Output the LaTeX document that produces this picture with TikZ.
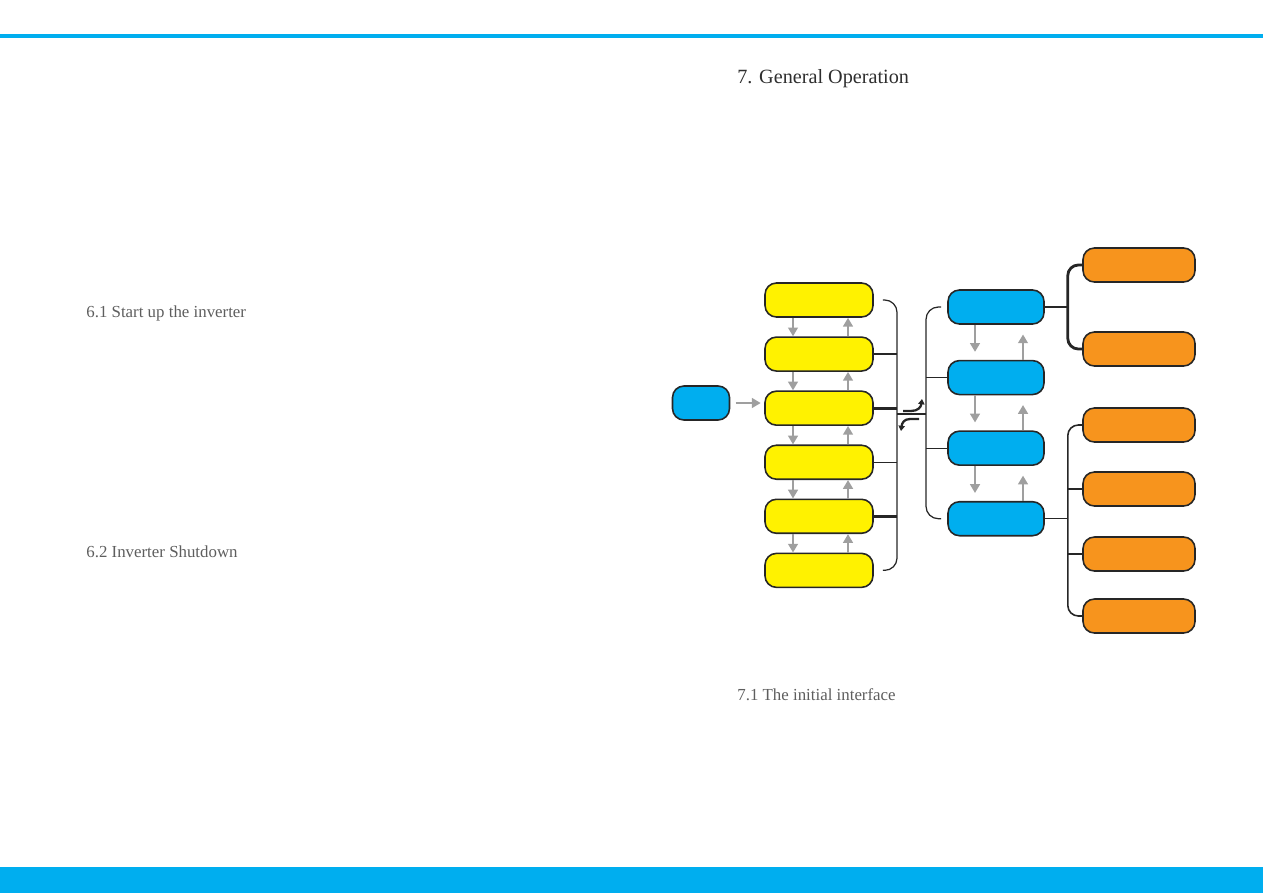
\documentclass[tikz,border=0pt]{standalone}
\usepackage{fontspec}
\setmainfont{Liberation Serif}
\usepackage{xcolor}
\usepackage{tikz}
\usetikzlibrary{arrows.meta,positioning,calc}
\definecolor{yfill}{HTML}{FFF200}
\definecolor{bfill}{HTML}{00AEEF}
\definecolor{ofill}{HTML}{F7941D}
\definecolor{barblue}{HTML}{00AEEF}
\definecolor{headgray}{HTML}{2E2E2E}
\definecolor{subgray}{HTML}{5E5E5E}

\begin{document}
\begin{tikzpicture}[
      x=0.02cm, y=-0.02cm,
      node distance = 0.37cm,
      box/.style = {rectangle, rounded corners=6.5pt, draw=black!85, line width=0.9pt, minimum height=0.68cm, inner sep=0pt},
      ybox/.style = {box, fill=yfill, minimum width=2.16cm},
      bbox/.style = {box, fill=bfill, minimum width=1.92cm},
      obox/.style = {box, fill=ofill, minimum width=2.24cm},
      garrow/.style = {-{Triangle[length=5pt,width=5.5pt]}, line width=1.5pt, gray!75},
      thinln/.style = {line width=0.7pt, black!85},
      thickln/.style = {line width=1.6pt, black!85},
      curv/.style = {-{Triangle[length=3pt,width=3.6pt]}, line width=1.3pt, black!85},
      head/.style = {anchor=base west, inner sep=0pt, text=headgray, font=\fontsize{11.5}{14}\selectfont},
      sub/.style = {anchor=base west, inner sep=0pt, text=subgray, font=\fontsize{9.6}{12}\selectfont}
    ]
    \useasboundingbox (0,0) rectangle (1263,893);
    \fill[barblue] (0,34) rectangle (1263,37.8);
    \fill[barblue] (0,866.5) rectangle (1263,893);

    \node[sub]  (t61) at (86,317) {6.1 Start up the inverter};
    \node[sub]  (t62) at (86,557) {6.2 Inverter Shutdown};
    \node[head] (t7)  at (737,83) {7. General Operation};
    \node[sub]  (t71) at (737,700) {7.1 The initial interface};

    \node[bbox, minimum width=1.14cm] (s) at (701,403) {};

    \node[ybox] (y1) at (819,300) {};
    \node[ybox, below=of y1] (y2) {};
    \node[ybox, below=of y2] (y3) {};
    \node[ybox, below=of y3] (y4) {};
    \node[ybox, below=of y4] (y5) {};
    \node[ybox, below=of y5] (y6) {};

    \node[bbox] (b1) at (996,307) {};
    \node[bbox, below=0.7cm of b1] (b2) {};
    \node[bbox, below=0.7cm of b2] (b3) {};
    \node[bbox, below=0.7cm of b3] (b4) {};

    \node[obox] (o1) at (1139,265) {};
    \node[obox] (o2) at (1139,349) {};
    \node[obox] (o3) at (1139,425) {};
    \node[obox] (o4) at (1139,489) {};
    \node[obox] (o5) at (1139,554) {};
    \node[obox] (o6) at (1139,616) {};

    \coordinate (ybr) at (897,414);
    \coordinate (bbr) at (926,414);
    \coordinate (oa)  at ($(b1.east)+(23,0)$);
    \coordinate (ob)  at ($(b4.east)+(23,0)$);

    \draw[garrow, shorten <=3pt, shorten >=2pt] (s.east) -- (s.east -| y3.west);

    \foreach \a/\b in {y1/y2,y2/y3,y3/y4,y4/y5,y5/y6} {
      \draw[garrow] ($(\a.south)+(-26,0)$) -- ($(\b.north)+(-26,0)$);
      \draw[garrow] ($(\b.north)+(29,0)$) -- ($(\a.south)+(29,0)$);
    }
    \foreach \a/\b in {b1/b2,b2/b3,b3/b4} {
      \draw[garrow, shorten >=4.5pt] ($(\a.south)+(-21,0)$) -- ($(\b.north)+(-21,0)$);
      \draw[garrow, shorten >=5.5pt] ($(\b.north)+(27,0)$) -- ($(\a.south)+(27,0)$);
    }

    \draw[thinln, rounded corners=7pt] ($(y1.east)+(9,0)$) -| (ybr) |- ($(y6.east)+(9,0)$);
    \draw[thinln] (y2.east) -- (y2.east -| ybr);
    \draw[thickln] (y3.east) -- (y3.east -| ybr);
    \draw[thinln] (y4.east) -- (y4.east -| ybr);
    \draw[thickln] (y5.east) -- (y5.east -| ybr);
    \draw[thickln] (ybr) -- (bbr);

    \draw[thinln, rounded corners=7pt] ($(b1.west)+(-6,0)$) -| (bbr) |- ($(b4.west)+(-6,0)$);
    \draw[thinln] (b2.west) -- (b2.west -| bbr);
    \draw[thinln] (b3.west) -- (b3.west -| bbr);

    \draw[curv] (903,411) -- (911,411) .. controls (918,411) and (921,407) .. (922,399);
    \draw[curv] (919,419) -- (910,419) .. controls (904,419) and (902,423) .. (901,431);

    \draw[thickln] (b1.east) -- (oa);
    \draw[thickln, rounded corners=6pt] (o1.west) -| (oa) |- (o2.west);
    \draw[thinln] (b4.east) -- (ob);
    \draw[line width=0.9pt, black!85, rounded corners=6pt] (o3.west) -| (ob) |- (o6.west);
    \draw[thickln] (o4.west) -- (o4.west -| ob);
    \draw[thickln] (o5.west) -- (o5.west -| ob);
  \end{tikzpicture}
\end{document}
